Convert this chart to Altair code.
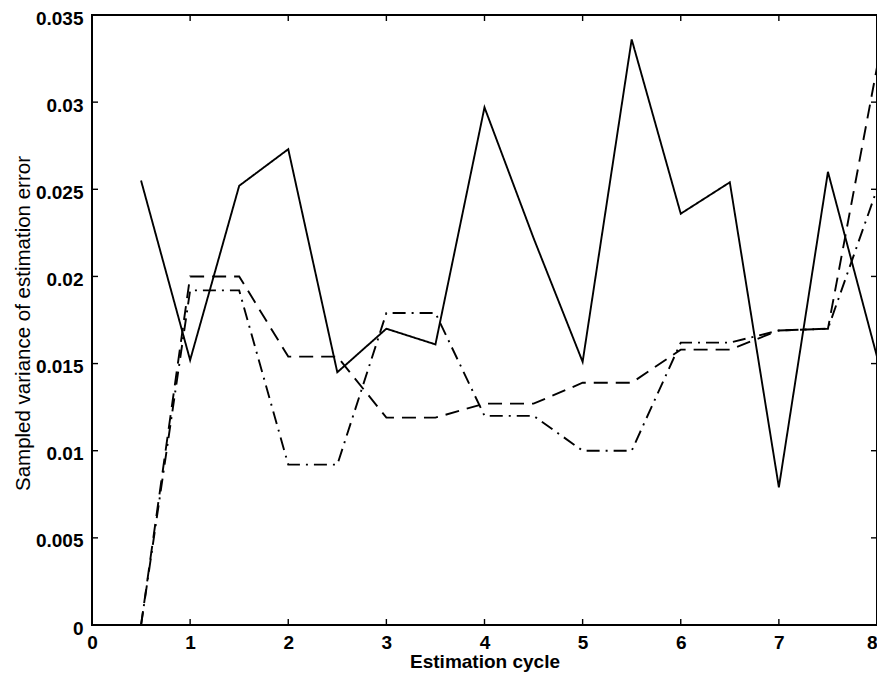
import altair as alt
import pandas as pd

cycles = [0.5, 1, 1.5, 2, 2.5, 3, 3.5, 4, 4.5, 5, 5.5, 6, 6.5, 7, 7.5, 8]
solid = [0.0255, 0.0152, 0.0252, 0.0273, 0.0145, 0.0170, 0.0161, 0.0297, 0.0222,
         0.0151, 0.0336, 0.0236, 0.0254, 0.0079, 0.0260, 0.0154]
dashed = [0.0, 0.0200, 0.0200, 0.0154, 0.0154, 0.0119, 0.0119, 0.0127, 0.0127,
          0.0139, 0.0139, 0.0158, 0.0158, 0.0169, 0.0170, 0.0320]
dashdot = [0.0, 0.0192, 0.0192, 0.0092, 0.0092, 0.0179, 0.0179, 0.0120, 0.0120,
           0.0100, 0.0100, 0.0162, 0.0162, 0.0169, 0.0170, 0.0250]
series_names = ["solid", "dashed", "dashdot"]
x_ticks = [0, 1, 2, 3, 4, 5, 6, 7, 8]
y_ticks = [0, 0.005, 0.01, 0.015, 0.02, 0.025, 0.03, 0.035]

rows = []
for name, vals in zip(series_names, [solid, dashed, dashdot]):
    for c, v in zip(cycles, vals):
        rows.append({"cycle": c, "value": v, "series": name})
df = pd.DataFrame(rows)

W, H = 785, 610
FONT = "Liberation Sans"

xscale = alt.Scale(domain=[0, 8], nice=False, zero=False)
yscale = alt.Scale(domain=[0, 0.035], nice=False)

lines = alt.Chart(df).mark_line(color="black", strokeWidth=1.9, clip=True).encode(
    x=alt.X("cycle:Q", scale=xscale,
            axis=alt.Axis(values=x_ticks, title="Estimation cycle", format="d",
                          tickSize=0, labelPadding=8, domain=False, grid=False,
                          labelFontSize=19, labelFont=FONT, labelColor="black",
                          labelFontWeight="bold", labelOverlap=False, labelFlush=False,
                          labelAlign={"condition": {"test": "datum.value >= 8", "value": "right"},
                                      "value": "center"},
                          titleFont=FONT, titleFontSize=19, titleFontWeight="bold",
                          titleColor="black", titleBaseline="alphabetic", titleY=42)),
    y=alt.Y("value:Q", scale=yscale,
            axis=alt.Axis(values=y_ticks, title="Sampled variance of estimation error",
                          format="~g", tickSize=0, labelPadding=9, labelOffset=3,
                          domain=False, grid=False,
                          labelFontSize=19, labelFont=FONT, labelColor="black",
                          labelFontWeight="bold", labelOverlap=False, labelFlush=False,
                          titleFont=FONT, titleFontSize=20.5, titleFontWeight="normal",
                          titleColor="black", titleX=-59, titleY=H / 2 + 3)),
    strokeDash=alt.StrokeDash("series:N",
                              scale=alt.Scale(domain=series_names,
                                              range=[[1, 0], [14, 8], [13, 6, 2, 6]]),
                              legend=None),
    detail="series:N",
)

xt = pd.DataFrame({"t": x_ticks})
yt = pd.DataFrame({"t": y_ticks})

xb = alt.Chart(xt).mark_rule(color="black", strokeWidth=1.4).encode(
    x=alt.X("t:Q", scale=xscale), y=alt.value(H), y2=alt.value(H - 6))
xtp = alt.Chart(xt).mark_rule(color="black", strokeWidth=1.4).encode(
    x=alt.X("t:Q", scale=xscale), y=alt.value(0), y2=alt.value(6))
yl = alt.Chart(yt).mark_rule(color="black", strokeWidth=1.4).encode(
    y=alt.Y("t:Q", scale=yscale), x=alt.value(0), x2=alt.value(6))
yr = alt.Chart(yt).mark_rule(color="black", strokeWidth=1.4).encode(
    y=alt.Y("t:Q", scale=yscale), x=alt.value(W), x2=alt.value(W - 6))

chart = alt.layer(lines, xb, xtp, yl, yr).properties(
    width=W, height=H,
    autosize=alt.AutoSizeParams(type="none"),
    padding={"left": 84, "top": 7, "right": 0, "bottom": 49},
    background="white",
).configure_view(stroke="black", strokeWidth=2)

chart.save("out.html", embed_options={"renderer": "svg", "actions": False})
